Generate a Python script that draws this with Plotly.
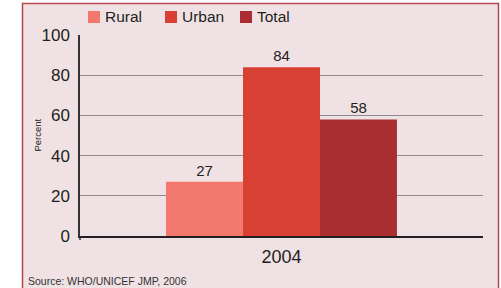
import plotly.graph_objects as go

categories = ["2004"]
series_names = ["Rural", "Urban", "Total"]
rural = [27]
urban = [84]
total = [58]
y_ticks = [0, 20, 40, 60, 80, 100]
colors = ["#F2786D", "#D94034", "#AA2E31"]

W, H = 501, 288
L, R, T, B = 80, 18, 35, 52
pw, ph = W - L - R, H - T - B

def px_x(px):
    return (px - L) / pw

def px_y(py):
    return (H - B - py) / ph

FONT = "Liberation Sans, Arial, sans-serif"
TXT = "#231F20"

fig = go.Figure()
for name, vals, col in zip(series_names, [rural, urban, total], colors):
    fig.add_trace(go.Bar(
        x=categories, y=vals, name=name, marker=dict(color=col, line=dict(width=0)),
        text=[str(v) for v in vals], textposition="outside",
        textfont=dict(size=15, color=TXT, family=FONT), cliponaxis=False,
        showlegend=False,
    ))

shapes = [
    dict(type="rect", xref="paper", yref="paper", x0=px_x(22.5), x1=px_x(498.5),
         y0=px_y(3.5), y1=px_y(295), fillcolor="#F0E2E4",
         line=dict(color="#B24A4D", width=1.5), layer="below"),
]
annotations = []
# manual legend
leg_sw = [88, 165, 240]
for name, col, sx in zip(series_names, colors, leg_sw):
    shapes.append(dict(type="rect", xref="paper", yref="paper", x0=px_x(sx), x1=px_x(sx + 12),
                       y0=px_y(23), y1=px_y(11), fillcolor=col, line=dict(width=0)))
    annotations.append(dict(text=name, xref="paper", yref="paper", x=px_x(sx + 15), y=px_y(17),
                            xanchor="left", yanchor="middle", showarrow=False,
                            font=dict(size=15.5, color=TXT, family=FONT)))
annotations.append(dict(text="Percent", xref="paper", yref="paper", x=px_x(37), y=0.5,
                        textangle=-90, showarrow=False, xanchor="center", yanchor="middle",
                        font=dict(size=9.5, color=TXT, family=FONT)))
annotations.append(dict(text="Source: WHO/UNICEF JMP, 2006", xref="paper", yref="paper",
                        x=px_x(26), y=px_y(281), xanchor="left", yanchor="middle", showarrow=False,
                        font=dict(size=10.5, color="#333333", family=FONT)))
# small tick below zero on y axis
shapes.append(dict(type="line", xref="paper", yref="paper", x0=0, x1=0, y0=0, y1=px_y(240),
                   line=dict(color="#333333", width=1.5)))

fig.update_layout(
    width=W, height=H, margin=dict(l=L, r=R, t=T, b=B),
    paper_bgcolor="white", plot_bgcolor="rgba(0,0,0,0)",
    barmode="group", bargap=0.427, bargroupgap=0,
    shapes=shapes, annotations=annotations, showlegend=False,
    font=dict(family=FONT, color=TXT),
)
fig.update_yaxes(range=[0, 100], tickvals=y_ticks, showgrid=True, gridcolor="#8C8C8C", gridwidth=1.2,
                 showline=True, linecolor="#333333", linewidth=1.5, zeroline=False,
                 ticks="outside", ticklen=5, tickcolor="rgba(0,0,0,0)",
                 tickfont=dict(size=17, color=TXT, family=FONT))
fig.update_xaxes(showline=True, linecolor="#231F20", linewidth=2, showgrid=False,
                 ticks="outside", ticklen=3, tickcolor="rgba(0,0,0,0)",
                 tickfont=dict(size=18, color=TXT, family=FONT))

fig.write_html("out.html", config={"displayModeBar": False},
               post_script="document.body.style.margin='0';document.body.style.overflow='hidden';")
